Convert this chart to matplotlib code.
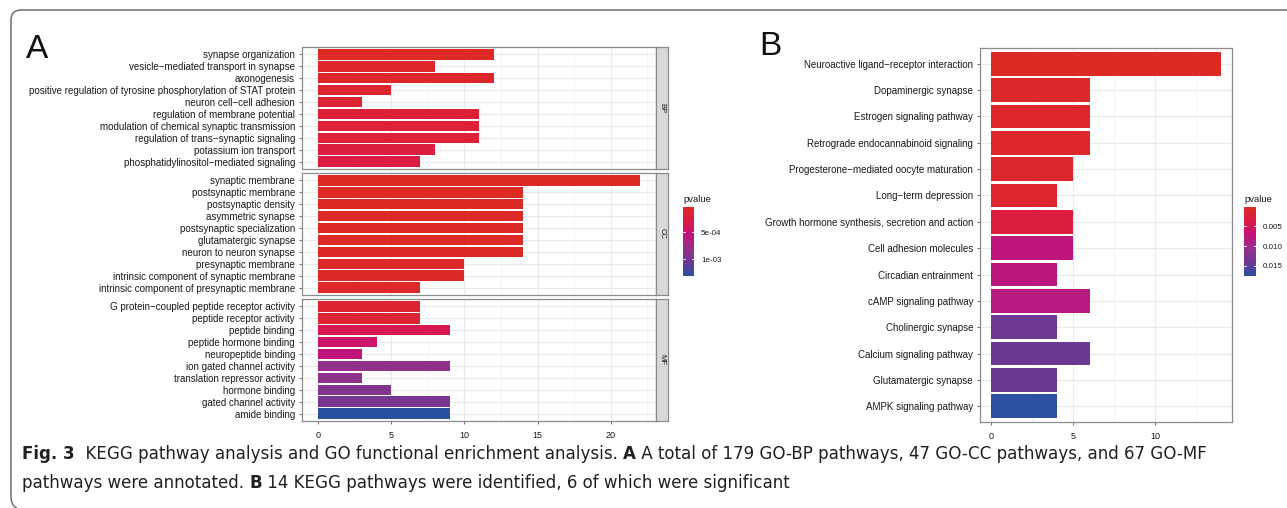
import numpy as np
import matplotlib
matplotlib.use("Agg")
import matplotlib.pyplot as plt
from matplotlib.colors import LinearSegmentedColormap, Normalize
from matplotlib.cm import ScalarMappable
from matplotlib.path import Path
from matplotlib.patches import PathPatch

W, H = 1287, 508
plt.rcParams['font.family'] = ['Liberation Sans', 'DejaVu Sans']

# ---- data: panel A (GO) ----
bp_terms = ["synapse organization", "vesicle\u2212mediated transport in synapse", "axonogenesis",
            "positive regulation of tyrosine phosphorylation of STAT protein", "neuron cell\u2212cell adhesion",
            "regulation of membrane potential", "modulation of chemical synaptic transmission",
            "regulation of trans\u2212synaptic signaling", "potassium ion transport",
            "phosphatidylinositol\u2212mediated signaling"]
bp_counts = [12, 8, 12, 5, 3, 11, 11, 11, 8, 7]
bp_pvals = [4.0e-5, 8.5e-5, 1.0e-4, 1.4e-4, 1.6e-4, 1.9e-4, 2.0e-4, 2.0e-4, 2.5e-4, 2.8e-4]

cc_terms = ["synaptic membrane", "postsynaptic membrane", "postsynaptic density", "asymmetric synapse",
            "postsynaptic specialization", "glutamatergic synapse", "neuron to neuron synapse",
            "presynaptic membrane", "intrinsic component of synaptic membrane",
            "intrinsic component of presynaptic membrane"]
cc_counts = [22, 14, 14, 14, 14, 14, 14, 10, 10, 7]
cc_pvals = [3.8e-5, 4.2e-5, 4.5e-5, 4.8e-5, 5.0e-5, 5.2e-5, 5.5e-5, 6.0e-5, 6.5e-5, 7.5e-5]

mf_terms = ["G protein\u2212coupled peptide receptor activity", "peptide receptor activity", "peptide binding",
            "peptide hormone binding", "neuropeptide binding", "ion gated channel activity",
            "translation repressor activity", "hormone binding", "gated channel activity", "amide binding"]
mf_counts = [7, 7, 9, 4, 3, 9, 3, 5, 9, 9]
mf_pvals = [1.4e-4, 1.5e-4, 3.5e-4, 4.6e-4, 5.7e-4, 8.2e-4, 8.5e-4, 9.3e-4, 1.0e-3, 1.31e-3]

go_prange = [3.7e-5, 1.31e-3]
go_ticks = [5e-4, 1e-3]
go_ticklabels = ["5e-04", "1e-03"]
go_xticks = [0, 5, 10, 15, 20]

# ---- data: panel B (KEGG) ----
kegg_terms = ["Neuroactive ligand\u2212receptor interaction", "Dopaminergic synapse", "Estrogen signaling pathway",
              "Retrograde endocannabinoid signaling", "Progesterone\u2212mediated oocyte maturation",
              "Long\u2212term depression", "Growth hormone synthesis, secretion and action",
              "Cell adhesion molecules", "Circadian entrainment", "cAMP signaling pathway",
              "Cholinergic synapse", "Calcium signaling pathway", "Glutamatergic synapse",
              "AMPK signaling pathway"]
kegg_counts = [14, 6, 6, 6, 5, 4, 5, 5, 4, 6, 4, 6, 4, 4]
kegg_pvals = [0.00015, 0.0006, 0.0008, 0.0009, 0.0011, 0.0013, 0.0030,
              0.0075, 0.0078, 0.0082, 0.0140, 0.0142, 0.0143, 0.0175]
kegg_prange = [0.0001, 0.0176]
kegg_ticks = [0.005, 0.010, 0.015]
kegg_ticklabels = ["0.005", "0.010", "0.015"]
kegg_xticks = [0, 5, 10]

cmap = LinearSegmentedColormap.from_list(
    "pv", [(0.0, "#DD2A24"), (0.2, "#DB1B45"), (0.4, "#C4127A"),
           (0.6, "#963089"), (0.8, "#6E3892"), (1.0, "#2A50A4")])

fig = plt.figure(figsize=(W / 100, H / 100), dpi=100)


def fbox(x0, y0, x1, y1):
    return [x0 / W, 1 - y1 / H, (x1 - x0) / W, (y1 - y0) / H]


def draw_bars(ax, terms, counts, pvals, norm, xmax, xticks, show_x):
    n = len(terms)
    y = np.arange(n)
    ax.barh(y, counts, height=0.9, color=cmap(norm(np.array(pvals))), zorder=3)
    ax.set_ylim(n - 0.4, -0.6)
    ax.set_xlim(-0.05 * xmax, 1.05 * xmax)
    ax.set_yticks(y)
    ax.set_yticklabels(terms)
    ax.set_xticks(xticks)
    ax.set_xticks([t + 2.5 for t in xticks if t + 2.5 < 1.05 * xmax], minor=True)
    ax.grid(which="major", color="#EBEBEB", lw=0.9)
    ax.grid(which="minor", axis="x", color="#F3F3F3", lw=0.6)
    ax.set_axisbelow(True)
    for s in ax.spines.values():
        s.set_color("#8C8C8C")
        s.set_linewidth(0.9)
    ax.tick_params(which="major", length=2.5, width=0.6, color="#555555",
                   labelsize=7.05, labelcolor="#1A1A1A", pad=2.5)
    ax.tick_params(which="minor", length=0)
    ax.tick_params(axis="x", labelsize=6.5, pad=5)
    if not show_x:
        ax.tick_params(axis="x", which="both", bottom=False, labelbottom=False)


def draw_colorbar(rect, prange, ticks, labels):
    cax = fig.add_axes(rect)
    norm = Normalize(*prange)
    cb = fig.colorbar(ScalarMappable(norm=norm, cmap=cmap), cax=cax)
    cb.outline.set_visible(False)
    cax.invert_yaxis()
    cb.set_ticks(ticks)
    cb.set_ticklabels(labels)
    cax.tick_params(length=0, labelsize=5.8, labelcolor="#1A1A1A", pad=5)
    for t in ticks:
        cax.plot([0, 0.2], [t, t], color="white", lw=0.6, transform=cax.get_yaxis_transform())
        cax.plot([0.8, 1.0], [t, t], color="white", lw=0.6, transform=cax.get_yaxis_transform())
    cax.text(0, 1.05, "pvalue", transform=cax.transAxes, fontsize=6.8,
             color="#1A1A1A", ha="left", va="bottom")


# ---- panel A ----
go_norm = Normalize(*go_prange)
facets = [("BP", bp_terms, bp_counts, bp_pvals, 47, 169),
          ("CC", cc_terms, cc_counts, cc_pvals, 173, 295),
          ("MF", mf_terms, mf_counts, mf_pvals, 299, 421)]
for i, (name, terms, counts, pvals, top, bot) in enumerate(facets):
    ax = fig.add_axes(fbox(302, top, 656, bot))
    draw_bars(ax, terms, counts, pvals, go_norm, 22, go_xticks, i == 2)
    sax = fig.add_axes(fbox(656, top, 668, bot))
    sax.set_facecolor("#D9D9D9")
    sax.set_xticks([])
    sax.set_yticks([])
    for s in sax.spines.values():
        s.set_color("#8C8C8C")
        s.set_linewidth(0.9)
    sax.text(0.5, 0.5, name, rotation=-90, ha="center", va="center",
             fontsize=5.5, color="#1A1A1A", transform=sax.transAxes)

draw_colorbar(fbox(683, 207, 694, 276), go_prange, go_ticks, go_ticklabels)

# ---- panel B ----
axb = fig.add_axes(fbox(980, 48, 1232, 422))
draw_bars(axb, kegg_terms, kegg_counts, kegg_pvals, Normalize(*kegg_prange), 14, kegg_xticks, True)
axb.set_xticks([2.5, 7.5, 12.5], minor=True)
draw_colorbar(fbox(1244, 207, 1256, 276), kegg_prange, kegg_ticks, kegg_ticklabels)

# panel letters
fig.text(26 / W, 1 - 58 / H, "A", fontsize=24, color="#111111", ha="left", va="baseline")
fig.text(759 / W, 1 - 55 / H, "B", fontsize=24, color="#111111", ha="left", va="baseline")

# outer frame (top and left edges, rounded)
def fp(x, y):
    return (x / W, 1 - y / H)

verts = [fp(W + 2, 10), fp(21, 10), fp(11, 10), fp(11, 20), fp(11, 496), fp(11, 506), fp(17, 508)]
codes = [Path.MOVETO, Path.LINETO, Path.CURVE3, Path.CURVE3, Path.LINETO, Path.CURVE3, Path.CURVE3]
fig.add_artist(PathPatch(Path(verts, codes), fill=False, edgecolor="#6E6E6E", lw=1.1,
                         transform=fig.transFigure))

# caption
cap_family = ["DejaVu Sans"]
line1 = [("Fig. 3", True), ("  KEGG pathway analysis and GO functional enrichment analysis. ", False),
         ("A", True), (" A total of 179 GO-BP pathways, 47 GO-CC pathways, and 67 GO-MF", False)]
line2 = [("pathways were annotated. ", False), ("B", True),
         (" 14 KEGG pathways were identified, 6 of which were significant", False)]

renderer = fig.canvas.get_renderer()


def put_line(parts, x0, y, size):
    x = x0
    arts = []
    for txt, bold in parts:
        t = fig.text(x / W, 1 - y / H, txt, fontsize=size, family=cap_family,
                     fontstretch="condensed",
                     fontweight="bold" if bold else "normal", color="#231F20",
                     ha="left", va="baseline")
        bb = t.get_window_extent(renderer)
        x = bb.x1
        arts.append(t)
    return arts, x - x0


size = 14
arts, width = put_line(line1, 22, 459, size)
for a in arts:
    a.remove()
size = size * 1188 / width
put_line(line1, 22, 459, size)
put_line(line2, 22, 488, size)

fig.savefig("out.png", dpi=100)
